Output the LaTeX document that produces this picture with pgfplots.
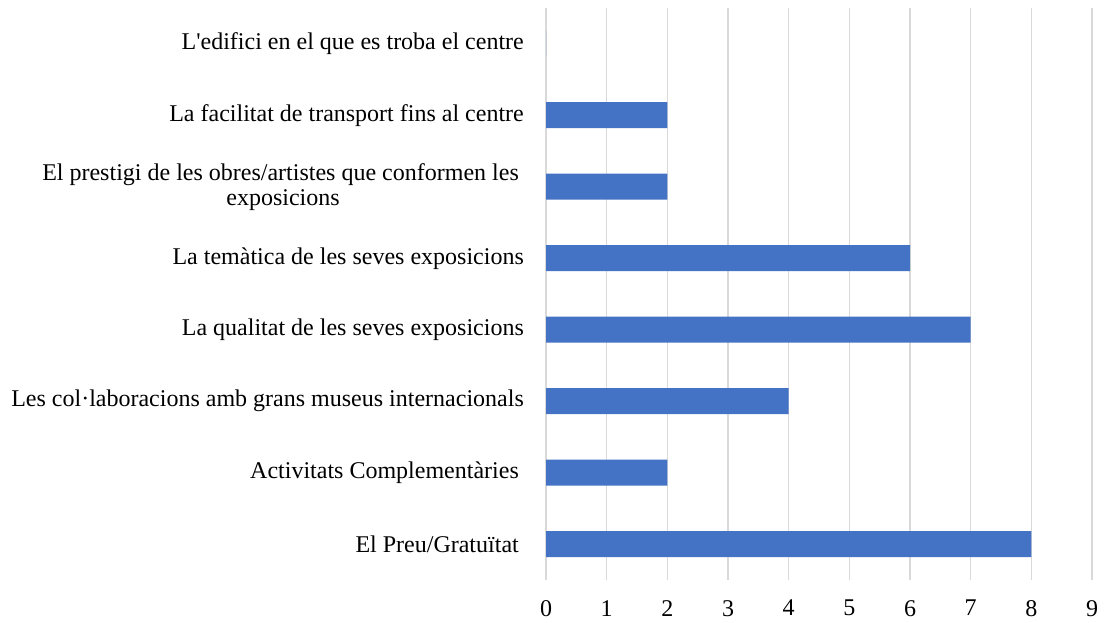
\documentclass[border=0pt]{standalone}
\usepackage{fontspec}
\setmainfont{Liberation Serif}
\usepackage{pgfplots}
\pgfplotsset{compat=1.18}
\definecolor{barblue}{HTML}{4472C4}
\definecolor{gridgray}{HTML}{D9D9D9}

\begin{document}
\fontsize{24}{25}\selectfont
\begin{tikzpicture}
\path[use as bounding box] (0,0) rectangle (1105pt,623pt);
\begin{axis}[
    at={(546pt,43pt)}, anchor=south west,
    scale only axis,
    width=546pt, height=572pt,
    xbar,
    bar width=26pt,
    xmin=0, xmax=9,
    ymin=-0.5, ymax=7.5,
    xtick={0,...,9},
    ytick={0,...,7},
    yticklabels={
        {El Preu/Gratuïtat\hspace*{5pt}},
        {Activitats Complementàries\hspace*{5pt}},
        {Les col·laboracions amb grans museus internacionals},
        {La qualitat de les seves exposicions},
        {La temàtica de les seves exposicions},
        {El prestigi de les obres/artistes que conformen les\hspace*{5pt}\\exposicions},
        {La facilitat de transport fins al centre},
        {L\textquotesingle edifici en el que es troba el centre}
    },
    axis line style={draw=none},
    major tick length=0pt,
    xmajorgrids,
    grid style={gridgray, line width=1.4pt},
    /pgf/number format/assume math mode=true,
    tick label style={font=\fontsize{24}{25}\selectfont},
    xticklabel style={inner sep=0pt, yshift=-20pt},
    yticklabel style={inner sep=0pt, xshift=-22pt, align=center},
    clip=false,
]
\addplot[fill=barblue, draw=none] coordinates {
    (8,0) (2,1) (4,2) (7,3) (6,4) (2,5) (2,6) (0,7)
};
\end{axis}
\end{tikzpicture}
\end{document}
